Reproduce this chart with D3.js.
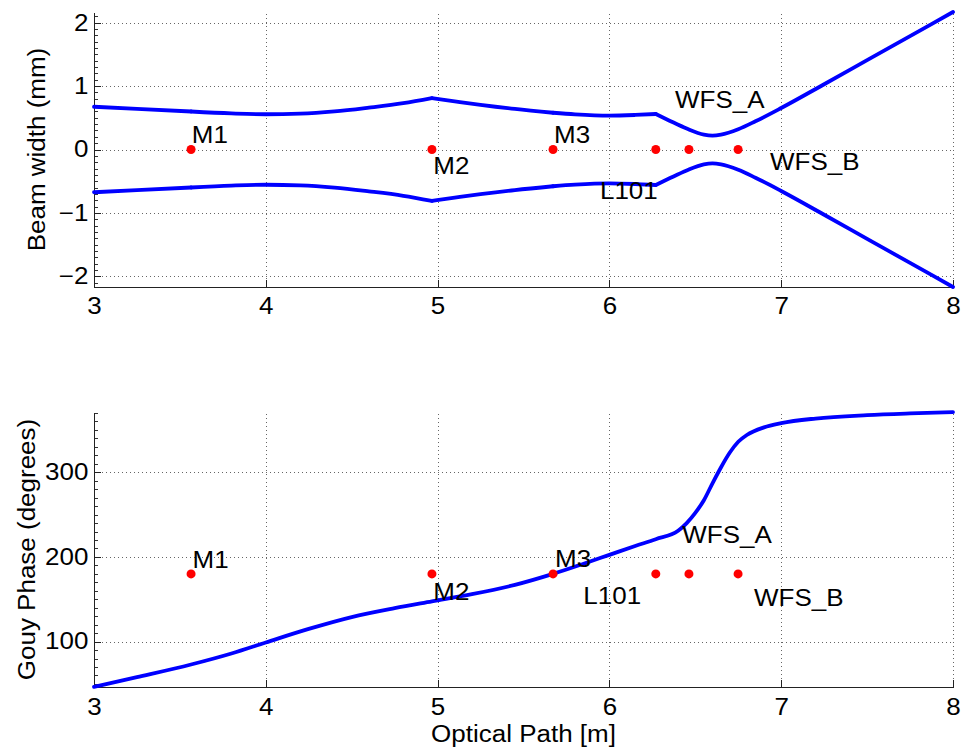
<!DOCTYPE html>
<html>
<head>
<meta charset="utf-8">
<script src="https://cdn.jsdelivr.net/npm/d3@7"></script>
<style>
body { margin: 0; background: #fff; }
</style>
</head>
<body>
<div id="chart"></div>
<script>
let width = 963
let height = 748

// tick values
let xTicks = [3, 4, 5, 6, 7, 8]
let beamTicks = [-2, -1, 0, 1, 2]
let gouyTicks = [100, 200, 300]

// optics along the path
let opticNames = ["M1", "M2", "M3", "L101", "WFS_A", "WFS_B"]
let opticPos = [3.565, 4.967, 5.672, 6.27, 6.463, 6.749]
let beamMarkLevel = 0
let gouyMarkLevel = 180

// beam radius (mm)
let beamPathX = [3.0, 3.25, 3.565, 3.8, 4.0, 4.2, 4.4, 4.6, 4.8, 4.967, 5.1, 5.25, 5.45, 5.672, 5.8, 6.0, 6.15, 6.27,
                 6.35, 6.45, 6.55, 6.6, 6.65, 6.75, 6.85, 7.0, 7.25, 7.5, 7.75, 8.0]
let beamRadius = [0.675, 0.64, 0.60, 0.57, 0.556, 0.565, 0.60, 0.66, 0.73, 0.81, 0.76, 0.705, 0.64, 0.58, 0.555, 0.535, 0.545, 0.56,
                  0.455, 0.33, 0.235, 0.22, 0.235, 0.32, 0.445, 0.655, 1.03, 1.41, 1.79, 2.17]

// gouy phase (degrees)
let gouyPathX = [3.0, 3.25, 3.565, 3.8, 4.0, 4.25, 4.5, 4.75, 4.967, 5.2, 5.45, 5.672, 5.85, 6.0, 6.15, 6.27,
                 6.4, 6.45, 6.5, 6.55, 6.6, 6.65, 6.7, 6.75, 6.8, 6.9, 7.0, 7.2, 7.5, 7.75, 8.0]
let gouyPhase = [46.5, 58, 73, 86, 99, 115, 129, 139.5, 147.5, 156, 167, 180, 192, 202.5, 213, 221,
                 231, 240, 252, 267, 287, 306, 323, 336, 344, 353, 358, 363.5, 367.5, 369.5, 371]

// text anchors (data coords, left / baseline)
let beamLabelX = [3.569, 4.975, 5.678, 5.945, 6.382, 6.935]
let beamLabelY = [0.10, -0.39, 0.10, -0.78, 0.655, -0.32]
let gouyLabelX = [3.574, 4.975, 5.684, 5.848, 6.424, 6.842]
let gouyLabelY = [187.4, 149.6, 188.2, 145, 216.5, 141.7]

let font = "'Liberation Sans', Arial, Helvetica, sans-serif"
let fontSize = 23
let stretch = 1.13

let left = 94
let right = 953

let svg = d3.select("#chart")
    .append("svg")
    .attr("width", width)
    .attr("height", height)
    .style("background", "#fff")

let x = d3.scaleLinear().domain([3, 8]).range([left, right])

function putText(g, px, py, str, anchor, rot) {
    g.append("text")
        .attr("transform", `translate(${px},${py})` + (rot ? ` rotate(${rot})` : "") + ` scale(${stretch},1)`)
        .attr("text-anchor", anchor || "start")
        .attr("font-family", font)
        .attr("font-size", fontSize)
        .attr("fill", "#000")
        .text(str)
}

function drawPanel(p) {
    let y = d3.scaleLinear().domain(p.domain).range([p.bottom, p.top])
    let g = svg.append("g")

    // dotted grid
    g.append("g")
        .attr("transform", `translate(0,${p.bottom})`)
        .call(d3.axisBottom(x).tickValues(xTicks).tickSize(-(p.bottom - p.top)).tickFormat(""))
        .call(a => a.select(".domain").remove())
        .selectAll("line")
        .attr("stroke", "#666")
        .attr("stroke-dasharray", "1,3")
        .attr("shape-rendering", "crispEdges")
    g.append("g")
        .attr("transform", `translate(${left},0)`)
        .call(d3.axisLeft(y).tickValues(p.ticks).tickSize(-(right - left)).tickFormat(""))
        .call(a => a.select(".domain").remove())
        .selectAll("line")
        .attr("stroke", "#666")
        .attr("stroke-dasharray", "1,3")
        .attr("shape-rendering", "crispEdges")

    // minor ticks on y
    g.append("g")
        .attr("transform", `translate(${left},0)`)
        .call(d3.axisLeft(y).tickValues(p.minor).tickSizeInner(-3.5).tickSizeOuter(0).tickFormat(""))
        .call(a => a.select(".domain").remove())
        .selectAll("line").attr("stroke", "#333").attr("shape-rendering", "crispEdges")

    // axes
    let xa = g.append("g")
        .attr("transform", `translate(0,${p.bottom})`)
        .call(d3.axisBottom(x).tickValues(xTicks).tickSizeInner(-7).tickSizeOuter(0).tickPadding(p.xPad).tickFormat(d3.format("d")))
    let ya = g.append("g")
        .attr("transform", `translate(${left},0)`)
        .call(d3.axisLeft(y).tickValues(p.ticks).tickSizeInner(-7).tickSizeOuter(0).tickPadding(5).tickFormat(d3.format("d")))
    for (let a of [xa, ya]) {
        a.attr("font-family", font).attr("font-size", fontSize)
        a.select(".domain").attr("stroke", "#222").attr("shape-rendering", "crispEdges")
        a.selectAll(".tick line").attr("stroke", "#222").attr("shape-rendering", "crispEdges")
        a.selectAll(".tick text").attr("fill", "#000").attr("transform", `scale(${stretch},1)`)
    }

    putText(g, p.labelX, (p.top + p.bottom) / 2, p.label, "middle", -90)

    return {g: g, y: y}
}

let beamPanel = drawPanel({
    top: 12, bottom: 287, domain: [-2.17, 2.17], ticks: beamTicks,
    minor: d3.range(-21, 22).map(d => d / 10),
    label: "Beam width (mm)", labelX: 45, xPad: 11
})
let gouyPanel = drawPanel({
    top: 412, bottom: 687, domain: [46.4, 371.2], ticks: gouyTicks,
    minor: d3.range(50, 371, 10),
    label: "Gouy Phase (degrees)", labelX: 35, xPad: 12
})

// beam envelope, one piece between each pair of optics so the kinks stay
let breaks = [3, opticPos[0], opticPos[1], opticPos[2], opticPos[3], 8]
let beamPts = beamPathX.map((d, i) => [d, beamRadius[i]])
let beamLine = d3.line()
    .x(d => x(d[0]))
    .y(d => beamPanel.y(d[1]))
    .curve(d3.curveMonotoneX)

for (let i = 0; i < breaks.length - 1; i++) {
    let seg = beamPts.filter(d => d[0] >= breaks[i] && d[0] <= breaks[i + 1])
    for (let sign of [1, -1]) {
        beamPanel.g.append("path")
            .datum(seg.map(d => [d[0], sign * d[1]]))
            .attr("d", beamLine)
            .attr("fill", "none")
            .attr("stroke", "#0000ff")
            .attr("stroke-width", 3.8)
            .attr("stroke-linecap", "round")
            .attr("stroke-linejoin", "round")
    }
}

// gouy phase
let gouyLine = d3.line()
    .x((d, i) => x(gouyPathX[i]))
    .y(d => gouyPanel.y(d))
    .curve(d3.curveMonotoneX)

gouyPanel.g.append("path")
    .datum(gouyPhase)
    .attr("d", gouyLine)
    .attr("fill", "none")
    .attr("stroke", "#0000ff")
    .attr("stroke-width", 3.8)
    .attr("stroke-linecap", "round")

// optic markers + names
function markOptics(panel, level, lx, ly) {
    panel.g.selectAll(".optic")
        .data(opticPos)
        .enter()
        .append("circle")
        .attr("class", "optic")
        .attr("cx", d => x(d))
        .attr("cy", panel.y(level))
        .attr("r", 4.5)
        .attr("fill", "#ff0000")
    opticNames.forEach((name, i) => {
        putText(panel.g, x(lx[i]), panel.y(ly[i]), name, "start")
    })
}
markOptics(beamPanel, beamMarkLevel, beamLabelX, beamLabelY)
markOptics(gouyPanel, gouyMarkLevel, gouyLabelX, gouyLabelY)

putText(svg, (left + right) / 2, 741.7, "Optical Path [m]", "middle")
</script>
</body>
</html>
